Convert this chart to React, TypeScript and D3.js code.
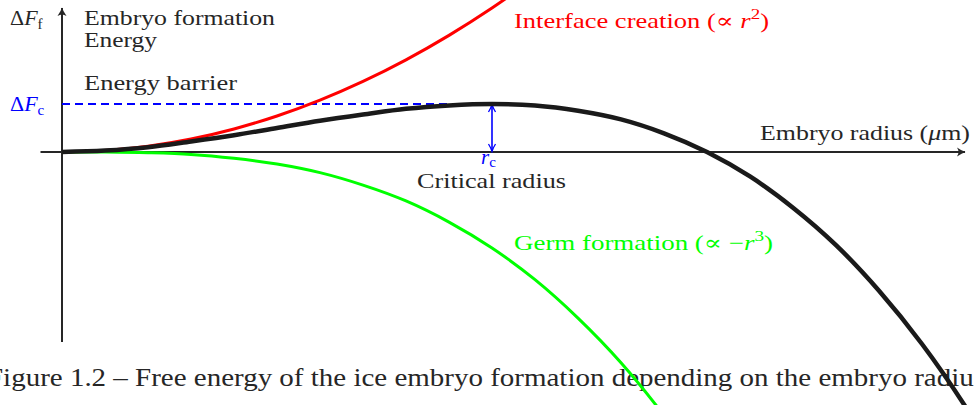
import React from 'react';
import * as d3 from 'd3';

// radius samples (r / r_c) and energies (ΔF / ΔF_c)
const radius = [0, 0.1, 0.2, 0.3, 0.4, 0.5, 0.6, 0.7, 0.8, 0.9, 1.0, 1.1, 1.2, 1.3, 1.4, 1.5, 1.6, 1.7, 1.8, 1.9, 2.0, 2.1, 2.2];
const interfaceEnergy = [0, 0.03, 0.12, 0.27, 0.48, 0.75, 1.08, 1.47, 1.92, 2.43, 3.0, 3.63];
const germEnergy = [0, -0.002, -0.016, -0.05, -0.13, -0.25, -0.43, -0.69, -1.02, -1.46, -2.0, -2.66, -3.46, -4.39, -5.49, -6.75];
const totalEnergy = [0, 0.03, 0.1, 0.22, 0.35, 0.5, 0.65, 0.78, 0.9, 0.97, 1.0, 0.97, 0.86, 0.68, 0.39, 0, -0.51, -1.16, -1.94, -2.89, -4.0, -5.29, -6.78];

const criticalRadius = 1;
const energyBarrier = 1;
const xAxisRange = [-0.05, 2.1];
const yAxisRange = [-3.96, 3.0];

const width = 974;
const height = 405;
const serif = { fontFamily: "'Liberation Serif', 'DejaVu Serif', serif" };
const ink = '#262626';

const x = d3.scaleLinear().domain([0, 1]).range([62, 492]);
const y = d3.scaleLinear().domain([0, 1]).range([152, 104]);

const line = d3
  .line<[number, number]>()
  .x(d => x(d[0]))
  .y(d => y(d[1]))
  .curve(d3.curveCatmullRom);

const pts = (vals: number[]) => vals.map((v, i) => [radius[i], v] as [number, number]);

const App = () => {
  const x0 = x(0);
  const y0 = y(0);
  return (
    <svg width={width} height={height} style={{ position: 'absolute', left: 0, top: 0, background: '#fff' }}>
      <defs>
        <marker id="arrowK" viewBox="-10 -6 12 12" refX="0" refY="0" markerWidth="12" markerHeight="12" markerUnits="userSpaceOnUse" orient="auto">
          <path d="M-8,-4.5 Q-3,-1 0.5,0 Q-3,1 -8,4.5 Q-5,0 -8,-4.5 Z" fill={ink} />
        </marker>
        <marker id="arrowB" viewBox="-10 -6 12 12" refX="0" refY="0" markerWidth="12" markerHeight="12" markerUnits="userSpaceOnUse" orient="auto-start-reverse">
          <path d="M-7,-3.5 Q-3,-1 0.5,0 Q-3,1 -7,3.5" fill="none" stroke="#0000ff" strokeWidth={1.3} />
        </marker>
      </defs>

      {/* caption, cut at both edges like the original crop */}
      <text x={-13} y={386} fontSize={25} fill={ink} style={serif} textLength={998} lengthAdjust="spacingAndGlyphs">
        Figure 1.2 – Free energy of the ice embryo formation depending on the embryo radius
      </text>

      {/* axes */}
      <line x1={x(xAxisRange[0])} y1={y0} x2={x(xAxisRange[1])} y2={y0} stroke={ink} strokeWidth={2} markerEnd="url(#arrowK)" />
      <line x1={x0} y1={y(yAxisRange[0])} x2={x0} y2={y(yAxisRange[1])} stroke={ink} strokeWidth={2} markerEnd="url(#arrowK)" />

      {/* energy barrier */}
      <line x1={x0} y1={y(energyBarrier)} x2={x(criticalRadius)} y2={y(energyBarrier)} stroke="#0000ff" strokeWidth={2} strokeDasharray="8,5" />
      <line
        x1={x(criticalRadius)}
        y1={y(energyBarrier) + 1}
        x2={x(criticalRadius)}
        y2={y0 - 1}
        stroke="#0000ff"
        strokeWidth={1.6}
        markerStart="url(#arrowB)"
        markerEnd="url(#arrowB)"
      />

      {/* curves */}
      <path d={line(pts(interfaceEnergy)) ?? ''} fill="none" stroke="#ff0000" strokeWidth={3} />
      <path d={line(pts(germEnergy)) ?? ''} fill="none" stroke="#00ff00" strokeWidth={3} />
      <path d={line(pts(totalEnergy)) ?? ''} fill="none" stroke="#1a1a1a" strokeWidth={4.5} />

      {/* labels */}
      <text x={10} y={25} fontSize={22} fill={ink} style={serif}>
        Δ<tspan fontStyle="italic">F</tspan>
        <tspan fontSize={15} dy={4}>f</tspan>
      </text>
      <text x={84} y={25} fontSize={21} fill={ink} style={serif} textLength={191} lengthAdjust="spacingAndGlyphs">Embryo formation</text>
      <text x={84} y={47} fontSize={21} fill={ink} style={serif} textLength={73} lengthAdjust="spacingAndGlyphs">Energy</text>
      <text x={84} y={90} fontSize={21} fill={ink} style={serif} textLength={153} lengthAdjust="spacingAndGlyphs">Energy barrier</text>

      <text x={10} y={111} fontSize={22} fill="#0000ff" style={serif}>
        Δ<tspan fontStyle="italic">F</tspan>
        <tspan fontSize={15} dy={4}>c</tspan>
      </text>

      <text x={x(criticalRadius) - 11} y={164} fontSize={21} fill="#0000ff" style={serif}>
        <tspan fontStyle="italic">r</tspan>
        <tspan fontSize={15} dy={3}>c</tspan>
      </text>
      <text x={417} y={188} fontSize={21} fill={ink} style={serif} textLength={149} lengthAdjust="spacingAndGlyphs">Critical radius</text>

      <text x={760} y={140} fontSize={21} fill={ink} style={serif} textLength={210} lengthAdjust="spacingAndGlyphs">
        Embryo radius (<tspan fontStyle="italic">μ</tspan>m)
      </text>

      <text x={514} y={28} fontSize={21} fill="#ff0000" style={serif} textLength={255} lengthAdjust="spacingAndGlyphs">
        Interface creation (∝ <tspan fontStyle="italic">r</tspan>
        <tspan fontSize={15} dy={-9}>2</tspan>
        <tspan dy={9}>)</tspan>
      </text>

      <text x={514} y={250} fontSize={21} fill="#00ff00" style={serif} textLength={259} lengthAdjust="spacingAndGlyphs">
        Germ formation (∝ −<tspan fontStyle="italic">r</tspan>
        <tspan fontSize={15} dy={-9}>3</tspan>
        <tspan dy={9}>)</tspan>
      </text>
    </svg>
  );
};

export default App;
